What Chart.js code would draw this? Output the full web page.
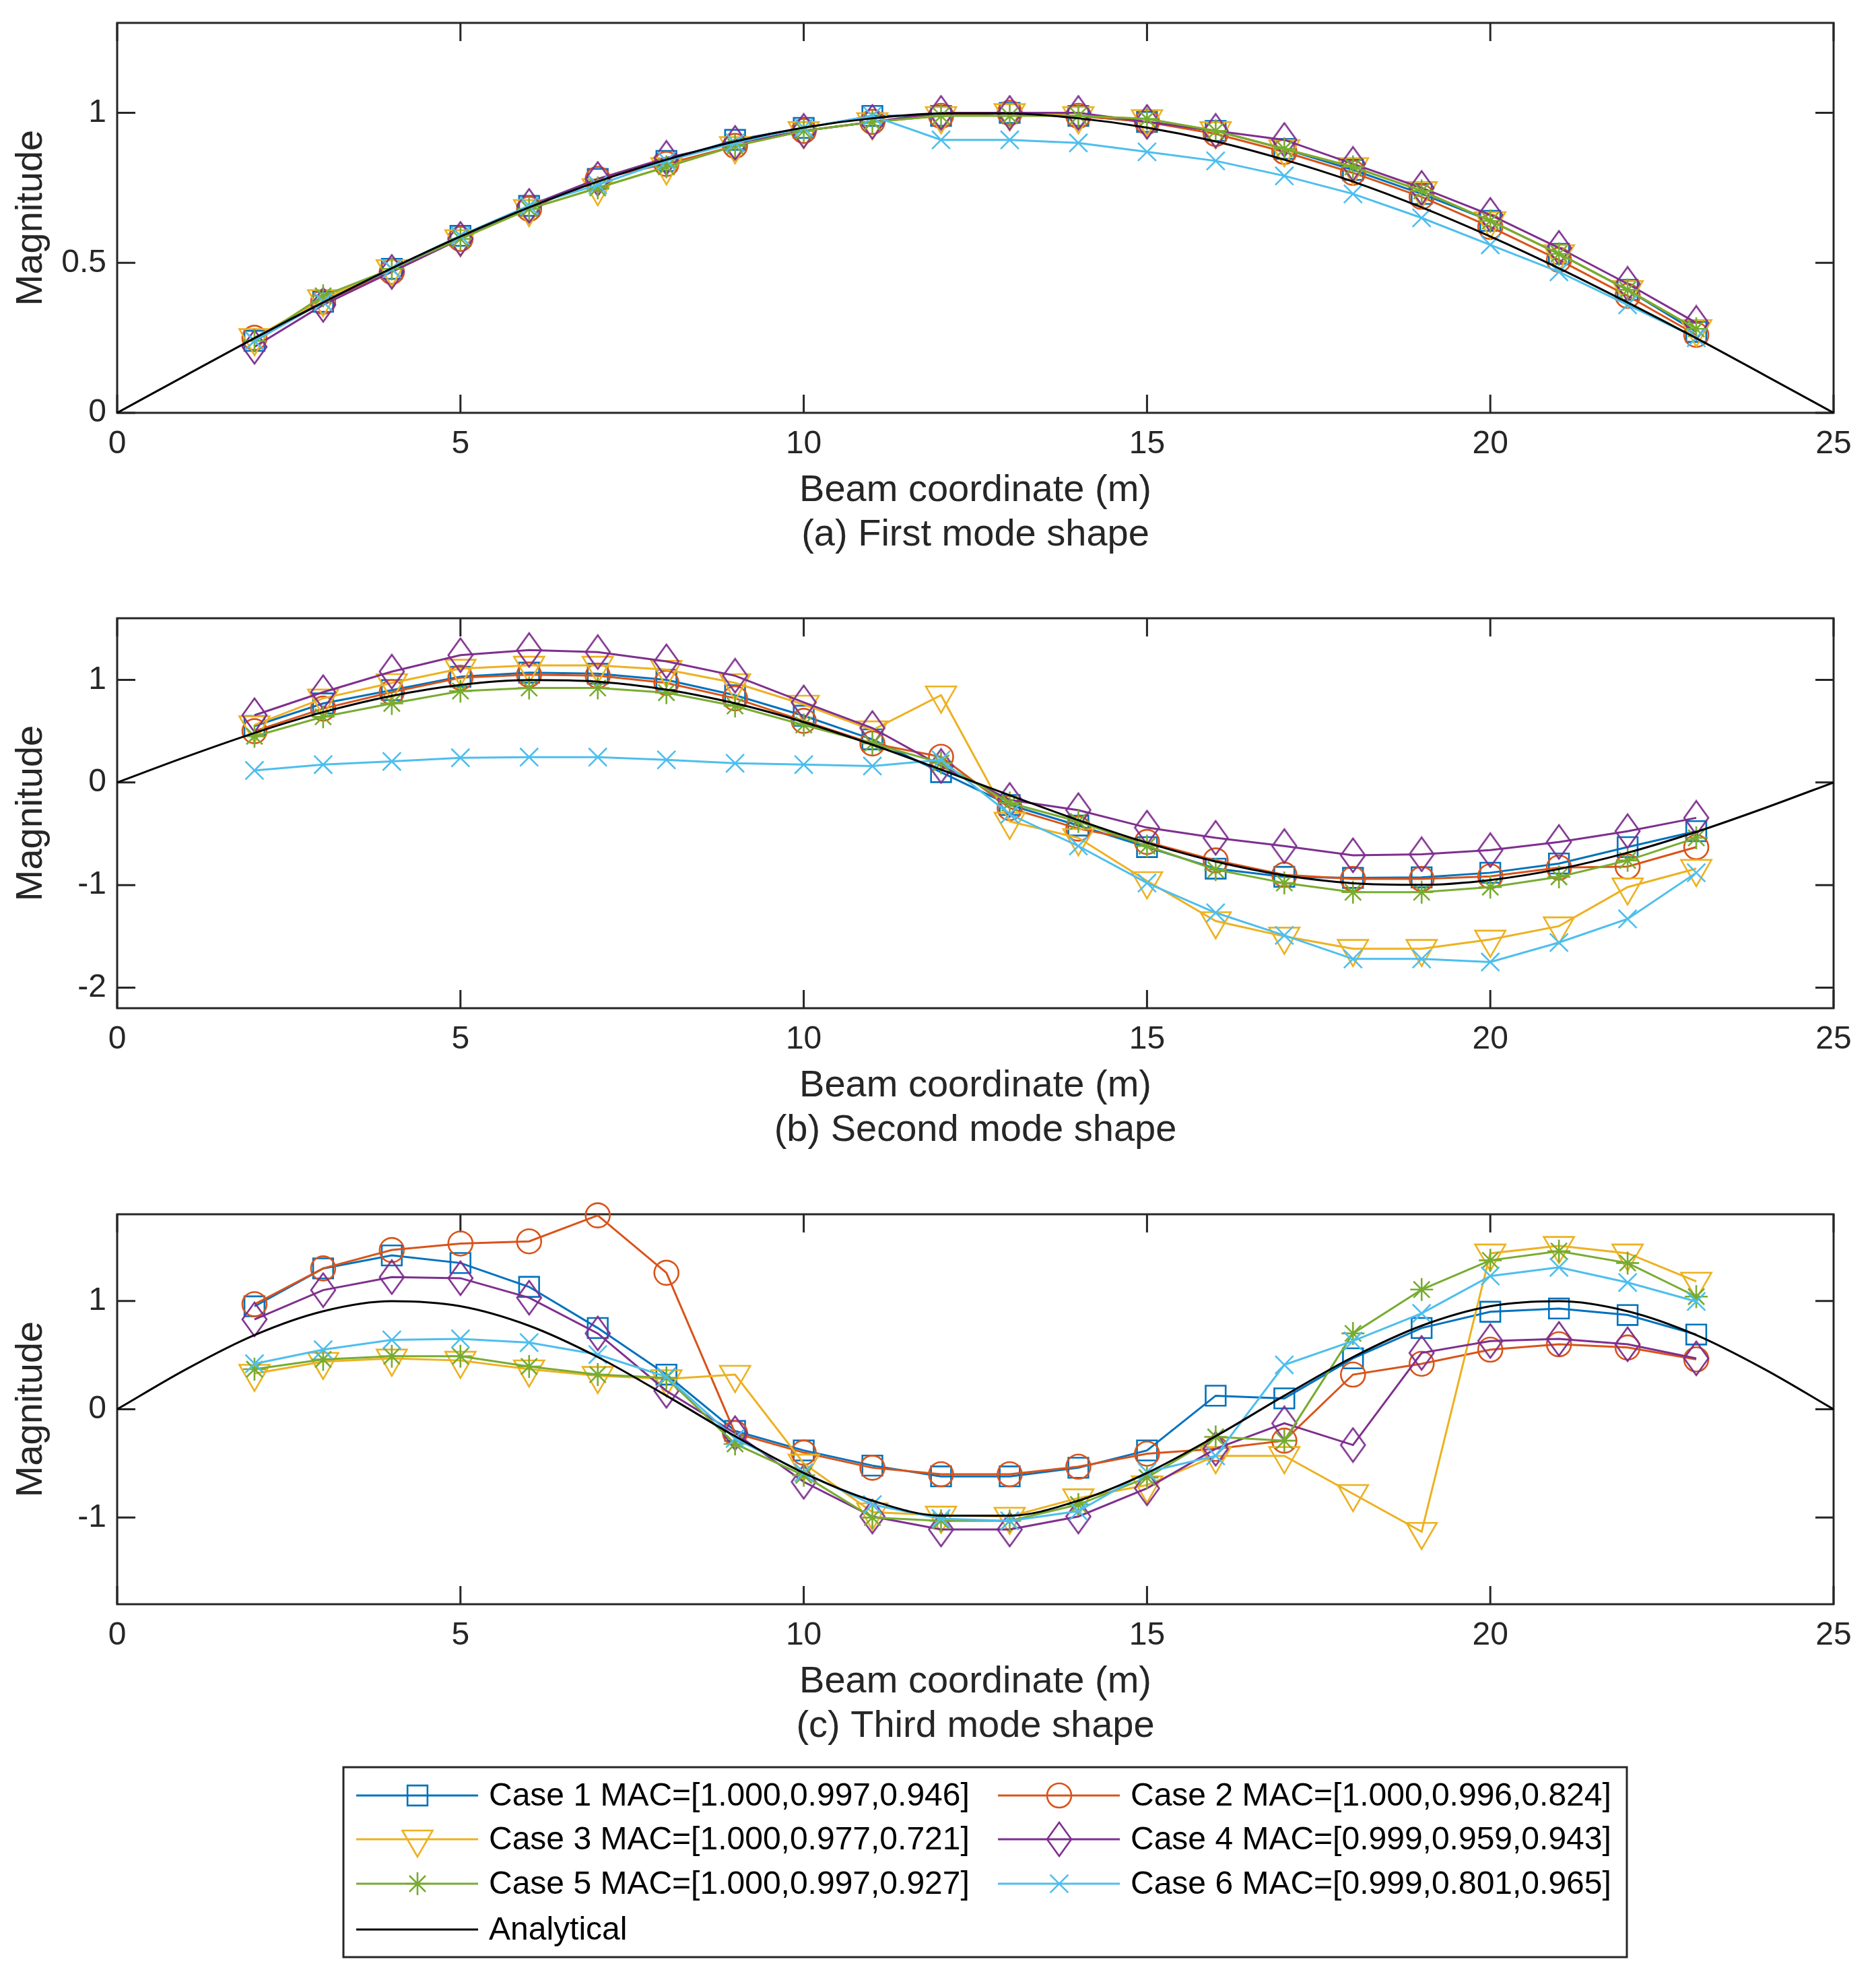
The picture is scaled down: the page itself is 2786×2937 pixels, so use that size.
<!DOCTYPE html>
<html>
<head>
<meta charset="utf-8">
<script src="https://cdn.jsdelivr.net/npm/chart.js@4/dist/chart.umd.min.js"></script>
<style>
  body { margin: 0; background: #fff; }
  #page { position: relative; width: 2786px; height: 2937px; background: #fff; }
  canvas { position: absolute; left: 0; }
</style>
</head>
<body>
<div id="page">
  <canvas id="panelA" width="2786" height="884" style="top:0px"></canvas>
  <canvas id="panelB" width="2786" height="884" style="top:884px"></canvas>
  <canvas id="panelC" width="2786" height="1168" style="top:1769px"></canvas>
</div>
<script>
// measured sensor positions (m) and the analytical curve stations
const xCases = [2, 3, 4, 5, 6, 7, 8, 9, 10, 11, 12, 13, 14, 15, 16, 17, 18, 19, 20, 21, 22, 23];
const xAnalytical = [0, 1, 2, 3, 4, 5, 6, 7, 8, 9, 10, 11, 12, 13, 14, 15, 16, 17, 18, 19, 20, 21, 22, 23, 24, 25];
const xTicks = [0, 5, 10, 15, 20, 25];

const caseLabels = [
  'Case 1 MAC=[1.000,0.997,0.946]',
  'Case 2 MAC=[1.000,0.996,0.824]',
  'Case 3 MAC=[1.000,0.977,0.721]',
  'Case 4 MAC=[0.999,0.959,0.943]',
  'Case 5 MAC=[1.000,0.997,0.927]',
  'Case 6 MAC=[0.999,0.801,0.965]'
];
const analyticalLabel = 'Analytical';

// (a) first mode
const mode1Case1 = [0.24, 0.37, 0.48, 0.59, 0.69, 0.78, 0.84, 0.91, 0.95, 0.99, 0.99, 1.00, 0.99, 0.97, 0.94, 0.88, 0.81, 0.73, 0.64, 0.53, 0.41, 0.27];
const mode1Case2 = [0.25, 0.37, 0.47, 0.58, 0.68, 0.78, 0.83, 0.89, 0.94, 0.97, 0.99, 1.00, 0.99, 0.97, 0.93, 0.87, 0.80, 0.72, 0.62, 0.51, 0.39, 0.26];
const mode1Case3 = [0.25, 0.38, 0.48, 0.58, 0.68, 0.75, 0.82, 0.89, 0.94, 0.97, 0.99, 1.00, 0.99, 0.98, 0.94, 0.88, 0.82, 0.74, 0.64, 0.53, 0.41, 0.28];
const mode1Case4 = [0.22, 0.36, 0.47, 0.58, 0.69, 0.78, 0.85, 0.90, 0.94, 0.97, 1.00, 1.00, 1.00, 0.97, 0.94, 0.91, 0.83, 0.75, 0.66, 0.55, 0.43, 0.30];
const mode1Case5 = [0.24, 0.39, 0.48, 0.58, 0.68, 0.75, 0.82, 0.89, 0.94, 0.97, 0.99, 0.99, 0.99, 0.98, 0.94, 0.88, 0.82, 0.74, 0.64, 0.53, 0.41, 0.28];
const mode1Case6 = [0.24, 0.37, 0.48, 0.59, 0.69, 0.76, 0.84, 0.90, 0.95, 0.99, 0.91, 0.91, 0.90, 0.87, 0.84, 0.79, 0.73, 0.65, 0.56, 0.47, 0.36, 0.25];
const mode1Analytical = [0, 0.125, 0.249, 0.368, 0.482, 0.588, 0.685, 0.771, 0.844, 0.905, 0.951, 0.982, 0.998, 0.998, 0.982, 0.951, 0.905, 0.844, 0.771, 0.685, 0.588, 0.482, 0.368, 0.249, 0.125, 0];

// (b) second mode
const mode2Case1 = [0.55, 0.77, 0.90, 1.03, 1.07, 1.06, 1.00, 0.85, 0.65, 0.42, 0.10, -0.22, -0.42, -0.63, -0.84, -0.92, -0.93, -0.925, -0.88, -0.79, -0.63, -0.475];
const mode2Case2 = [0.50, 0.72, 0.88, 1.02, 1.05, 1.04, 0.97, 0.82, 0.60, 0.38, 0.25, -0.25, -0.45, -0.58, -0.76, -0.90, -0.94, -0.94, -0.915, -0.83, -0.82, -0.63];
const mode2Case3 = [0.56, 0.82, 0.97, 1.11, 1.14, 1.14, 1.10, 0.97, 0.76, 0.51, 0.85, -0.38, -0.54, -0.96, -1.35, -1.50, -1.62, -1.62, -1.53, -1.40, -1.02, -0.84];
const mode2Case4 = [0.655, 0.88, 1.08, 1.24, 1.29, 1.27, 1.18, 1.04, 0.78, 0.53, 0.16, -0.17, -0.27, -0.44, -0.54, -0.62, -0.71, -0.70, -0.66, -0.58, -0.475, -0.345];
const mode2Case5 = [0.45, 0.64, 0.77, 0.89, 0.92, 0.92, 0.875, 0.745, 0.56, 0.38, 0.19, -0.20, -0.38, -0.62, -0.85, -0.98, -1.07, -1.07, -1.02, -0.92, -0.76, -0.54];
const mode2Case6 = [0.117, 0.174, 0.205, 0.24, 0.247, 0.247, 0.22, 0.187, 0.174, 0.16, 0.22, -0.31, -0.62, -0.98, -1.27, -1.49, -1.72, -1.72, -1.75, -1.56, -1.33, -0.88];
const mode2Analytical = [0, 0.249, 0.482, 0.685, 0.844, 0.951, 0.998, 0.982, 0.905, 0.771, 0.588, 0.368, 0.125, -0.125, -0.368, -0.588, -0.771, -0.905, -0.982, -0.998, -0.951, -0.844, -0.685, -0.482, -0.249, 0];

// (c) third mode
const mode3Case1 = [0.95, 1.30, 1.42, 1.35, 1.13, 0.75, 0.32, -0.20, -0.38, -0.52, -0.62, -0.62, -0.54, -0.38, 0.125, 0.10, 0.47, 0.75, 0.90, 0.93, 0.87, 0.69];
const mode3Case2 = [0.97, 1.30, 1.47, 1.53, 1.55, 1.79, 1.26, -0.22, -0.40, -0.54, -0.60, -0.60, -0.53, -0.41, -0.365, -0.29, 0.32, 0.42, 0.55, 0.60, 0.57, 0.46];
const mode3Case3 = [0.33, 0.44, 0.47, 0.45, 0.37, 0.31, 0.28, 0.32, -0.50, -0.95, -0.98, -0.99, -0.82, -0.70, -0.43, -0.43, -0.78, -1.13, 1.44, 1.51, 1.44, 1.18];
const mode3Case4 = [0.83, 1.10, 1.22, 1.21, 1.03, 0.70, 0.17, -0.22, -0.67, -0.99, -1.11, -1.11, -0.99, -0.73, -0.365, -0.13, -0.33, 0.52, 0.63, 0.65, 0.60, 0.47];
const mode3Case5 = [0.37, 0.46, 0.49, 0.49, 0.395, 0.32, 0.29, -0.32, -0.61, -1.00, -1.03, -1.03, -0.88, -0.63, -0.255, -0.29, 0.70, 1.105, 1.375, 1.46, 1.35, 1.04];
const mode3Case6 = [0.42, 0.55, 0.64, 0.65, 0.615, 0.505, 0.30, -0.27, -0.585, -0.88, -1.01, -1.03, -0.94, -0.58, -0.43, 0.41, 0.63, 0.885, 1.23, 1.31, 1.17, 0.995];
const mode3Analytical = [0, 0.368, 0.685, 0.905, 0.998, 0.951, 0.771, 0.482, 0.125, -0.249, -0.588, -0.844, -0.982, -0.982, -0.844, -0.588, -0.249, 0.125, 0.482, 0.771, 0.951, 0.998, 0.905, 0.685, 0.368, 0];

const yTicksA = [0, 0.5, 1];
const yTicksB = [-2, -1, 0, 1];
const yTicksC = [-1, 0, 1];

// look
const FONT = "'Liberation Sans', Arial, Helvetica, sans-serif";
const AXIS_COLOR = '#262626';
const colors = ['#0072BD', '#D95319', '#EDB120', '#7E2F8E', '#77AC30', '#4DBEEE'];

// matlab style diamond is taller than wide, so draw it on a small canvas
function makeDiamond(color) {
  const c = document.createElement('canvas');
  c.width = 40; c.height = 54;
  const g = c.getContext('2d');
  g.strokeStyle = color;
  g.lineWidth = 2.6;
  g.beginPath();
  g.moveTo(20, 2); g.lineTo(38, 27); g.lineTo(20, 52); g.lineTo(2, 27);
  g.closePath();
  g.stroke();
  return c;
}

const markers = [
  { style: 'rect', rotation: 0, radius: 21 },
  { style: 'circle', rotation: 0, radius: 18 },
  { style: 'triangle', rotation: 180, radius: 26 },
  { style: makeDiamond(colors[3]), rotation: 0, radius: 20 },
  { style: 'star', rotation: 0, radius: 17 },
  { style: 'crossRot', rotation: 0, radius: 19 }
];

Chart.defaults.font.family = FONT;
Chart.defaults.color = AXIS_COLOR;

// box round the axes and inward ticks on all four sides
const axesFrame = {
  id: 'axesFrame',
  beforeDatasetsDraw(chart) {
    const { ctx, chartArea: a, scales } = chart;
    const len = 27;
    ctx.save();
    ctx.strokeStyle = AXIS_COLOR;
    ctx.lineWidth = 3;
    ctx.beginPath();
    scales.x.ticks.forEach(t => {
      const px = scales.x.getPixelForValue(t.value);
      ctx.moveTo(px, a.bottom); ctx.lineTo(px, a.bottom - len);
      ctx.moveTo(px, a.top); ctx.lineTo(px, a.top + len);
    });
    scales.y.ticks.forEach(t => {
      const py = scales.y.getPixelForValue(t.value);
      ctx.moveTo(a.left, py); ctx.lineTo(a.left + len, py);
      ctx.moveTo(a.right, py); ctx.lineTo(a.right - len, py);
    });
    ctx.stroke();
    ctx.strokeRect(a.left, a.top, a.right - a.left, a.bottom - a.top);
    ctx.restore();
  }
};

// two column boxed legend under the last panel
const boxLegend = {
  id: 'boxLegend',
  afterDraw(chart) {
    const ctx = chart.ctx;
    const box = { left: 510, top: 855, width: 1906, height: 282 };
    const rows = [897, 962, 1028, 1096];
    const cols = [529, 1482];
    const layout = [[0, 1], [2, 3], [4, 5], [6]];
    ctx.save();
    ctx.strokeStyle = AXIS_COLOR;
    ctx.lineWidth = 3;
    ctx.strokeRect(box.left, box.top, box.width, box.height);
    ctx.font = '48px ' + FONT;
    ctx.textBaseline = 'middle';
    ctx.textAlign = 'left';
    layout.forEach((row, r) => {
      row.forEach((di, c) => {
        const ds = chart.data.datasets[di];
        const x = cols[c];
        const y = rows[r];
        ctx.strokeStyle = ds.borderColor;
        ctx.lineWidth = ds.borderWidth;
        ctx.beginPath();
        ctx.moveTo(x, y); ctx.lineTo(x + 181, y);
        ctx.stroke();
        if (ds.pointRadius > 0) {
          ctx.strokeStyle = ds.pointBorderColor;
          ctx.fillStyle = 'rgba(0,0,0,0)';
          ctx.lineWidth = ds.pointBorderWidth;
          Chart.helpers.drawPoint(ctx, {
            pointStyle: ds.pointStyle,
            rotation: ds.pointRotation,
            radius: ds.pointRadius,
            borderWidth: ds.pointBorderWidth
          }, x + 91, y);
        }
        ctx.fillStyle = '#000';
        ctx.fillText(ds.label, x + 197, y + 2);
      });
    });
    ctx.restore();
  }
};

function makePanel(id, caseSeries, analytical, yMin, yMax, yTicks, caption, withLegend) {
  const datasets = caseSeries.map((vals, i) => ({
    label: caseLabels[i],
    data: xCases.map((x, j) => ({ x: x, y: vals[j] })),
    borderColor: colors[i],
    borderWidth: 3,
    pointStyle: markers[i].style,
    pointRotation: markers[i].rotation,
    pointRadius: markers[i].radius,
    pointBorderWidth: 2.6,
    pointBorderColor: colors[i],
    pointBackgroundColor: 'rgba(0,0,0,0)',
    tension: 0,
    clip: false,
    order: 6 - i
  }));
  datasets.push({
    label: analyticalLabel,
    data: xAnalytical.map((x, j) => ({ x: x, y: analytical[j] })),
    borderColor: '#000',
    borderWidth: 3,
    pointRadius: 0,
    cubicInterpolationMode: 'monotone',
    order: 0
  });

  return new Chart(document.getElementById(id), {
    type: 'line',
    data: { datasets: datasets },
    options: {
      responsive: false,
      animation: false,
      devicePixelRatio: 1,
      layout: { padding: { top: 34, right: 63, left: 0, bottom: withLegend ? 340 : 56 } },
      plugins: { legend: { display: false }, tooltip: { enabled: false } },
      scales: {
        x: {
          type: 'linear',
          min: 0,
          max: 25,
          afterBuildTicks: s => { s.ticks = xTicks.map(v => ({ value: v })); },
          afterFit: s => { s.height = 215; },
          grid: { display: false, drawTicks: false },
          border: { display: false },
          ticks: { font: { size: 48 }, color: AXIS_COLOR, padding: 18, maxRotation: 0, callback: v => String(v) },
          title: {
            display: true,
            text: ['Beam coordinate (m)', caption],
            font: { size: 56, lineHeight: 66 / 56 },
            color: AXIS_COLOR,
            padding: { top: 0, bottom: 0 }
          }
        },
        y: {
          type: 'linear',
          min: yMin,
          max: yMax,
          afterBuildTicks: s => { s.ticks = yTicks.map(v => ({ value: v })); },
          // fixed width, and no extra room for half tick labels at the ends
          afterFit: s => { s.width = 174; s.paddingTop = 0; s.paddingBottom = 0; },
          grid: { display: false, drawTicks: false },
          border: { display: false },
          ticks: { font: { size: 48 }, color: AXIS_COLOR, padding: 16, callback: v => String(v) },
          title: {
            display: true,
            text: 'Magnitude',
            font: { size: 56, lineHeight: 1.2 },
            color: AXIS_COLOR,
            padding: { top: 13, bottom: 0 }
          }
        }
      }
    },
    plugins: withLegend ? [axesFrame, boxLegend] : [axesFrame]
  });
}

makePanel('panelA',
  [mode1Case1, mode1Case2, mode1Case3, mode1Case4, mode1Case5, mode1Case6],
  mode1Analytical, 0, 1.3, yTicksA, '(a) First mode shape', false);
makePanel('panelB',
  [mode2Case1, mode2Case2, mode2Case3, mode2Case4, mode2Case5, mode2Case6],
  mode2Analytical, -2.2, 1.6, yTicksB, '(b) Second mode shape', false);
makePanel('panelC',
  [mode3Case1, mode3Case2, mode3Case3, mode3Case4, mode3Case5, mode3Case6],
  mode3Analytical, -1.8, 1.8, yTicksC, '(c) Third mode shape', true);
</script>
</body>
</html>
